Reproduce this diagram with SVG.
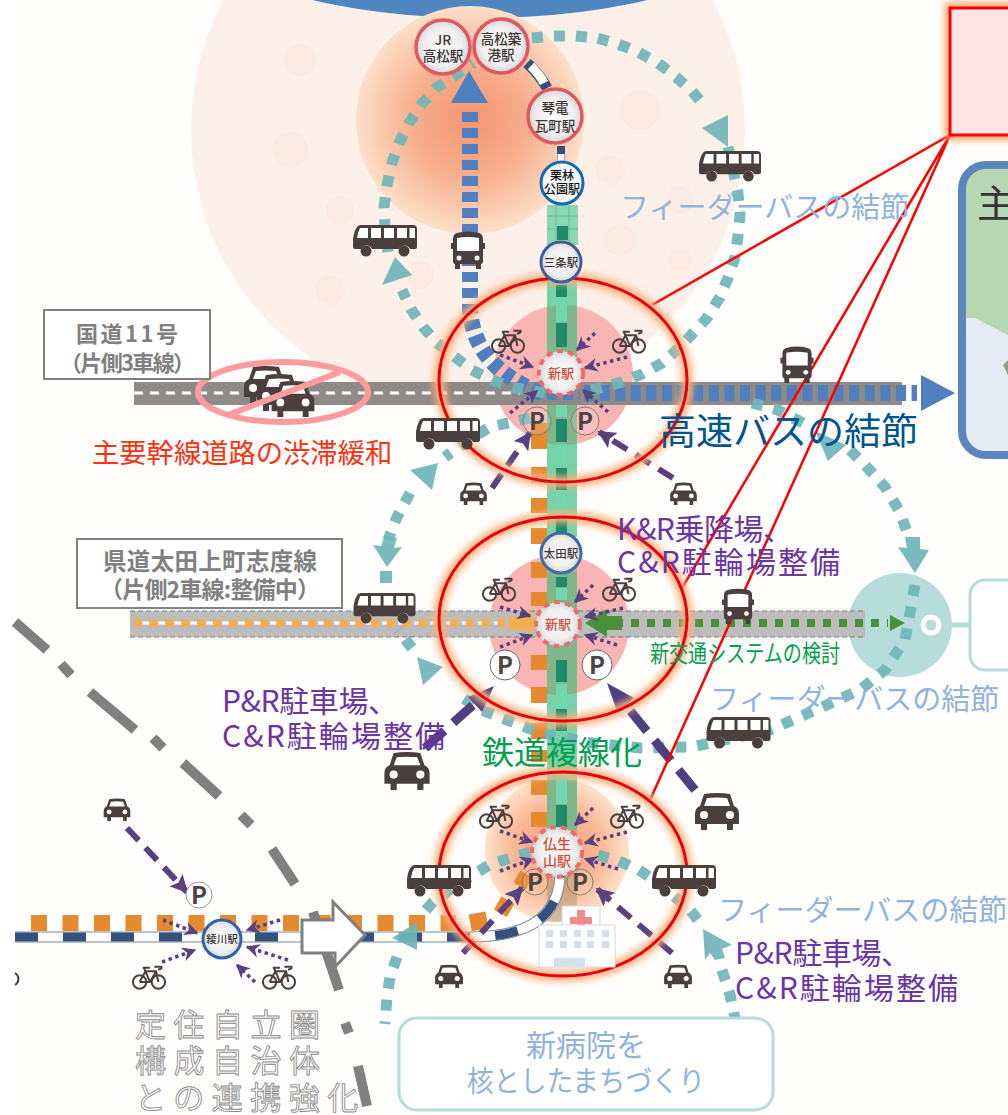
<svg xmlns="http://www.w3.org/2000/svg" width="1008" height="1115" viewBox="0 0 1008 1115">
<style>
.jp{font-family:"Noto Sans CJK JP","Noto Sans",sans-serif}
.sta{font-family:"Noto Sans CJK JP",sans-serif;font-weight:500;text-anchor:middle;fill:#3d3534}
.lbl{font-family:"Noto Sans CJK JP",sans-serif;font-weight:700;fill:#808080}
.feed{font-family:"Noto Sans CJK JP",sans-serif;fill:#8fb3dc;font-size:29px}
.pur{font-family:"Noto Sans CJK JP",sans-serif;fill:#6a35a5;font-size:30px}
.teal{fill:none;stroke:#6fb5b9;stroke-width:11;stroke-dasharray:11 11;opacity:.92}
.tealh{fill:#6fb5b9;opacity:.92}
.dot{fill:none;stroke:#5b4080;stroke-width:3.5;stroke-dasharray:3.5 3.5}
.dash{fill:none;stroke:#5b4080;stroke-width:6;stroke-dasharray:17 10}
.dashb{fill:none;stroke:#4e3f80;stroke-width:9;stroke-dasharray:26 12}
.gd{fill:none;stroke:#808080;stroke-width:10}
.red{fill:none;stroke:#e60012;stroke-width:3}
.glow{fill:none;stroke:#fbb07a;stroke-width:11;filter:url(#bl)}
.rl{fill:none;stroke:#ff0000;stroke-width:2.5}
.rail{fill:#78d2a8}
.rdk{fill:#1f8a68}
.rlt{fill:#72d8ab}
.org{fill:#e58a2e}
.pk{fill:#f9b4b4}
.st{fill:url(#sg)}
.out{font-family:"Noto Sans CJK JP",sans-serif;font-size:31px;letter-spacing:7.5px;fill:#fff;stroke:#8a8a8a;stroke-width:.9}
</style>
<defs>
<filter id="bl" x="-20%" y="-20%" width="140%" height="140%"><feGaussianBlur stdDeviation="3.5"/></filter>
<radialGradient id="or"><stop offset="0" stop-color="#f4956f"/><stop offset=".5" stop-color="#f7ae8c"/><stop offset="1" stop-color="#fcdfc8"/></radialGradient>
<radialGradient id="or3"><stop offset="0" stop-color="#f48a6c"/><stop offset=".6" stop-color="#f8ab82"/><stop offset="1" stop-color="#fcdcc0"/></radialGradient>
<radialGradient id="sg"><stop offset="0" stop-color="#fafafa"/><stop offset=".7" stop-color="#efefef"/><stop offset="1" stop-color="#d6d6d6"/></radialGradient>
<clipPath id="c1"><circle cx="563" cy="375" r="70"/></clipPath>
<clipPath id="c2"><circle cx="559" cy="625" r="70"/></clipPath>
<clipPath id="c3"><circle cx="557" cy="850" r="72"/></clipPath>
<marker id="ah" viewBox="0 0 10 10" refX="9" refY="5" markerWidth="4" markerHeight="4" orient="auto" markerUnits="strokeWidth"><path d="M0 0L10 5L0 10L3 5Z" fill="#5b4080"/></marker>
<marker id="ad" viewBox="0 0 10 10" refX="9" refY="5" markerWidth="3" markerHeight="3" orient="auto" markerUnits="strokeWidth"><path d="M0 0L10 5L0 10L2 5Z" fill="#5b4080"/></marker>
<symbol id="bs" viewBox="0 0 64 32"><path d="M8 0H60Q64 0 64 4V22Q64 24 61 24H57A6 6 0 0 0 46 24H19A6 6 0 0 0 8 24H2Q0 24 0 22V14Q1 6 4 2Q5 0 8 0Z" fill="#4a3f3d"/><circle cx="13" cy="26" r="5.5" fill="#4a3f3d"/><circle cx="51" cy="26" r="5.5" fill="#4a3f3d"/><path d="M7 3H15V13H4Q5 7 7 3Z M18 3H28V13H18Z M31 3H41V13H31Z M44 3H54V13H44Z M56.500 3H62V13H56.500Z" fill="#fff"/></symbol>
<symbol id="bf" viewBox="0 0 34 40"><path d="M6 2Q17 -1 28 2Q32 3 32 8V30Q32 33 30 33V38H25V33H9V38H4V33Q2 33 2 30V8Q2 3 6 2Z M0 12H2V18H0Z M32 12H34V18H32Z" fill="#4a3f3d"/><path d="M6 7Q17 5 28 7V20H6Z" fill="#fff"/><circle cx="8" cy="27" r="2.500" fill="#fff"/><circle cx="26" cy="27" r="2.500" fill="#fff"/></symbol>
<symbol id="car" viewBox="0 0 44 38"><path d="M9 2Q22 0 35 2L39 14Q44 16 44 22V32H38V38H32V32H12V38H6V32H0V22Q0 16 5 14Z" fill="#4a3f3d"/><path d="M12 6Q22 5 32 6L35 14H9Z" fill="#fff"/><circle cx="9" cy="23" r="4" fill="#fff"/><circle cx="35" cy="23" r="4" fill="#fff"/></symbol>
<symbol id="bk" viewBox="0 0 38 28"><g fill="none" stroke="#4a3f3d" stroke-width="2.200"><circle cx="8.500" cy="19" r="7.500"/><circle cx="29.500" cy="19" r="7.500"/><path d="M8.500 19L15 7H27L29.500 19M15 7L20 19H8.500M20 19L27 7M12 3H20M15 7L13 3M25 2H33Q34 5 29 5"/></g></symbol>
<g id="pg"><text class="jp" font-weight="700" text-anchor="middle" font-size="24" fill="#4a4442" y="8.500">P</text></g>
</defs>
<rect width="1008" height="1115" fill="#fffefc"/>
<rect width="15" height="1115" fill="#fff"/>

<g id="area-top">
<circle cx="468" cy="130" r="277" fill="#fdf0e8"/>
<g fill="#fbe6dc" opacity=".55"><circle cx="300" cy="60" r="16"/><circle cx="640" cy="110" r="20"/><circle cx="610" cy="170" r="15"/><circle cx="680" cy="200" r="14"/><circle cx="290" cy="150" r="18"/><circle cx="340" cy="210" r="14"/><circle cx="620" cy="240" r="16"/><circle cx="680" cy="260" r="12"/><circle cx="420" cy="275" r="14"/><circle cx="330" cy="290" r="15"/></g>
<ellipse cx="480" cy="-60" rx="262" ry="78" fill="#4f86c0"/>
<circle cx="470" cy="120" r="114" fill="url(#or)"/>
</g>

<g id="circles">
<circle class="pk" cx="563" cy="375" r="70"/>
<circle class="pk" cx="559" cy="625" r="70"/>
<circle cx="557" cy="850" r="72" fill="url(#or3)" opacity=".85"/>
</g>

<g id="rail-main">
<rect class="rail" x="547" y="205" width="31" height="40" opacity=".85"/>
<path d="M547 216H578M547 229H578M556 205V245M569 205V245" stroke="#5cc48f" fill="none"/>
<rect class="rdk" x="557" y="226" width="11" height="14"/>
<rect class="rail" x="547" y="275" width="30" height="262"/>
<rect class="rail" x="547" y="572" width="30" height="258"/>
<g fill="#8f8a60" opacity=".38"><rect x="547" y="300" width="30" height="150" clip-path="url(#c1)"/><rect x="547" y="555" width="30" height="140" clip-path="url(#c2)"/><rect x="547" y="780" width="30" height="145" clip-path="url(#c3)"/></g>
<g class="rdk"><rect x="556" y="285" width="11" height="12"/><rect x="556" y="323" width="11" height="24"/><rect x="556" y="419" width="11" height="23"/><rect x="556" y="468" width="11" height="22"/><rect x="556" y="518" width="11" height="16"/><rect x="556" y="577" width="11" height="10"/><rect x="556" y="660" width="11" height="22"/><rect x="556" y="709" width="11" height="22"/><rect x="556" y="805" width="11" height="24"/></g>
<g class="rlt"><rect x="556" y="298" width="11" height="24"/><rect x="556" y="392" width="11" height="25"/><rect x="556" y="444" width="11" height="22"/><rect x="556" y="492" width="11" height="25"/><rect x="556" y="588" width="11" height="12"/><rect x="556" y="684" width="11" height="24"/><rect x="556" y="780" width="11" height="24"/></g>
</g>

<g id="feeder-hub">
<circle cx="900" cy="625" r="52" fill="#b6dcdc"/>
<path d="M932 625H972" stroke="#b6dcdc" stroke-width="5"/>
<circle cx="931" cy="625" r="8" fill="none" stroke="#fff" stroke-width="5"/>
<rect x="970" y="580" width="60" height="90" rx="15" fill="#fff" stroke="#b5dcdc" stroke-width="3"/>
</g>

<g id="roads">
<rect x="134" y="382" width="768" height="23" fill="#8f8a87"/>
<path d="M134 393H520" stroke="#fff" stroke-width="3" stroke-dasharray="9 7" fill="none"/>
<rect x="130" y="611" width="735" height="26" fill="#bcbcbc"/>
<path d="M130 611H865M130 637H865" stroke="#777" stroke-dasharray="5 3" fill="none"/>
<path d="M134 623H515" stroke="#fff" stroke-width="3" stroke-dasharray="7 9" stroke-dashoffset="8" fill="none"/>
<path d="M134 623H512" stroke="#f2ae50" stroke-width="8" stroke-dasharray="8 7.800" fill="none"/>
<path d="M511 612V616H530V609L540 623L530 637V630H511V634Z" fill="#f2ae50" transform="translate(-2,0)"/>
</g>

<g id="connectors">
<g class="org">
<rect x="531" y="423" width="16" height="26"/><rect x="531" y="467" width="16" height="16"/><rect x="531" y="498" width="16" height="15"/><rect x="531" y="528" width="16" height="16"/><rect x="531" y="562" width="16" height="16"/><rect x="531" y="592" width="16" height="14"/><rect x="531" y="655" width="16" height="15"/><rect x="531" y="687" width="16" height="16"/><rect x="531" y="723" width="16" height="16"/><rect x="531" y="750" width="16" height="12"/><rect x="531" y="780" width="16" height="15"/><rect x="531" y="812" width="16" height="15"/>
<rect x="516" y="873" width="14" height="14" transform="rotate(30 523 880)"/><rect x="497" y="899" width="15" height="15" transform="rotate(30 504 906)"/><rect x="470" y="913" width="17" height="17" transform="rotate(-10 478 921)"/>
</g>
<path d="M31 923H456" stroke="#e58a2e" stroke-width="16" stroke-dasharray="16 15.500" fill="none"/>
<path d="M15 937H470Q559 937 560 874" fill="none" stroke="#7d8599" stroke-width="11"/>
<path d="M15 937H470Q559 937 560 874" fill="none" stroke="#fff" stroke-width="9"/>
<path d="M15 937H470Q559 937 560 874" fill="none" stroke="#33507f" stroke-width="9" stroke-dasharray="23 25"/>
<path d="M527 63Q540 75 547 88" fill="none" stroke="#33507f" stroke-width="11" />
<path d="M531 66Q540 75 544 83" fill="none" stroke="#fff" stroke-width="9"/>
<path d="M561 146L561 164" fill="none" stroke="#33507f" stroke-width="8"/>
<path d="M561 154V164" fill="none" stroke="#fff" stroke-width="7"/>

<path d="M470 112V310Q474 366 538 392H580" fill="none" stroke="#4f7fbf" stroke-width="16" stroke-dasharray="10 6"/>
<path d="M584 393H917" fill="none" stroke="#4f7fbf" stroke-width="16" stroke-dasharray="10 5.600"/>
<path d="M469 71L488 103H451Z" fill="#4f7fbf"/>
<path d="M921 375L955 393L921 411Z" fill="#4f7fbf"/>
<path d="M615 623H888" fill="none" stroke="#4a9038" stroke-width="8" stroke-dasharray="8 8"/>
<path d="M905 623L890 615V631Z" fill="#4a9038"/>
<path d="M585 623L607 609V616H622V630H607V637Z" fill="#4a9038"/>

<path class="teal" d="M545 393L515 388L492 380L472 370L455 357L437 343L423 327L411 309L402 290"/>
<path class="tealh" d="M395 257L412 275L382 285Z"/>
<path class="teal" d="M388 252L385 228L384 207L387 185L392 163L399 143L409 123L421 105L436 88L453 77L473 63"/>
<path class="teal" d="M532 38L553 36L575 36L597 38L618 44L638 52L658 63L676 77L692 91L706 108"/>
<path class="tealh" d="M728 147L702 128L728 115Z"/>
<path class="teal" d="M728 147L738 193L740 215L738 236L735 257L728 278L720 297L707 318L693 333L678 349L662 363L642 374L622 382L600 388L580 392"/>
<path class="teal" d="M530 418L490 427L467 441L445 457"/>
<path class="tealh" d="M438 463L410 470L432 490Z"/>
<path class="teal" d="M410 493L397 517L388 540"/>
<path class="tealh" d="M387 567L373 545L381 546L385 535L397 538L394 548L402 547Z"/>
<rect class="tealh" x="380" y="571" width="12" height="12"/>
<path class="teal" d="M752 403L778 410L803 423"/>
<path class="tealh" d="M815 431L846 445L828 461Z"/>
<path class="teal" d="M850 450L865 465L885 487L900 512L908 535"/>
<path class="tealh" d="M915 573L898 547L907 548L905 537L920 537L920 549L929 550Z"/>
<path class="teal" d="M915 585L905 640L885 670L860 690L820 708L770 730L692 747L640 748L583 742L533 730L507 720L482 710L458 695"/>
<path class="tealh" d="M417 657L443 667L423 685Z"/>
<path class="teal" d="M412 648L398 630"/>
<path class="teal" d="M530 852L510 858L489 865L473 875L452 888L433 902L420 917"/>
<path class="tealh" d="M392 938L417 922L417 950Z"/>
<path class="teal" d="M397 957L390 977L387 997L385 1024"/>
<path class="teal" d="M598 855L619 861L639 870L657 882L673 895L690 910L702 925"/>
<path class="tealh" d="M703 929L732 945L722 949L725 958L715 960L710 953L705 960Z"/>
<path class="teal" d="M722 970L730 995L735 1018"/>

<g id="purple">
<path class="dot" marker-end="url(#ah)" d="M500 355L533 367"/><path class="dot" marker-end="url(#ah)" d="M627 357L585 368"/><path class="dot" marker-end="url(#ah)" d="M595 333L577 350"/><path class="dot" marker-end="url(#ah)" d="M510 413L537 391"/><path class="dot" marker-end="url(#ah)" d="M608 412L583 390"/>
<path class="dash" marker-end="url(#ad)" d="M492 488L530 433"/><path class="dash" marker-end="url(#ad)" d="M673 478L599 432"/>
<path class="dot" marker-end="url(#ah)" d="M500 607L530 616"/><path class="dot" marker-end="url(#ah)" d="M500 647L532 635"/><path class="dot" marker-end="url(#ah)" d="M593 585L575 602"/><path class="dot" marker-end="url(#ah)" d="M623 608L585 617"/><path class="dot" marker-end="url(#ah)" d="M617 645L585 635"/>
<path class="dashb" d="M425 748L473 705"/><path d="M494 686L468 697L482 712Z" fill="#4e3f80"/>
<path class="dashb" d="M695 790L628 708"/><path d="M607 683L634 698L618 714Z" fill="#4e3f80"/>
<path class="dot" marker-end="url(#ah)" d="M500 831L532 842"/><path class="dot" marker-end="url(#ah)" d="M627 832L585 843"/><path class="dot" marker-end="url(#ah)" d="M593 808L575 825"/><path class="dot" marker-end="url(#ah)" d="M500 871L533 859"/><path class="dot" marker-end="url(#ah)" d="M618 869L585 859"/>
<path class="dash" marker-end="url(#ad)" d="M463 953L522 888"/><path class="dash" marker-end="url(#ad)" d="M672 953L597 889"/>
<path class="dash" marker-end="url(#ad)" d="M127 828L187 892"/>
<path class="dot" marker-end="url(#ah)" d="M163 920L197 933"/><path class="dot" marker-end="url(#ah)" d="M280 920L247 930"/><path class="dot" marker-end="url(#ah)" d="M162 962L195 950"/><path class="dot" marker-end="url(#ah)" d="M288 960L247 947"/><path class="dot" marker-end="url(#ah)" d="M255 982L237 965"/>
</g>

<g id="gray-line">
<path class="gd" d="M15 622L47 650"/><path class="gd" d="M61 664L71 675"/><path class="gd" d="M90 692L135 730"/><path class="gd" d="M153 738L163 748"/><path class="gd" d="M183 763L219 796"/><path class="gd" d="M241 815L251 825"/><path class="gd" d="M272 849L295 884"/><path class="gd" d="M313 912L339 990"/><path class="gd" d="M345 1023L349 1033"/><path class="gd" d="M358 1066L367 1106"/>
</g>
<path id="white-arrow" d="M302 920H333V902L365 935L335 967V953H302Z" fill="#fff" stroke="#808080" stroke-width="3"/>
</g>

<g id="red-lines">
<path class="rl" d="M950 135L652 305M950 135L682 588M950 135L650 800"/>
</g>
<g id="ell1"><ellipse class="glow" cx="563" cy="380" rx="124" ry="102"/><ellipse class="red" cx="563" cy="380" rx="124" ry="102"/></g>
<g id="ell2"><ellipse class="glow" cx="563" cy="619" rx="124" ry="102"/><ellipse class="red" cx="563" cy="619" rx="124" ry="102"/></g>
<g id="ell3"><ellipse class="glow" cx="563" cy="874" rx="124" ry="102"/><ellipse class="red" cx="563" cy="874" rx="124" ry="102"/></g>

<g id="hospital">
<rect x="562" y="906" width="38" height="22" fill="#fff" stroke="#d8d8d8"/>
<path d="M577 910H585V917H592V924H585V931H577V924H570V917H577Z" fill="#f08a8a"/>
<rect x="539" y="925" width="76" height="42" fill="#fff" stroke="#d8d8d8"/>
<g fill="#d5dfec"><rect x="546" y="930" width="7" height="7"/><rect x="560" y="930" width="7" height="7"/><rect x="574" y="930" width="7" height="7"/><rect x="587" y="930" width="7" height="7"/><rect x="602" y="930" width="7" height="7"/><rect x="546" y="941" width="7" height="7"/><rect x="560" y="941" width="7" height="7"/><rect x="574" y="941" width="7" height="7"/><rect x="587" y="941" width="7" height="7"/><rect x="602" y="941" width="7" height="7"/><rect x="554" y="958" width="31" height="9"/></g>
</g>

<g id="icons">
<use href="#bs" x="352" y="225" width="66" height="32"/><use href="#bs" x="698" y="151" width="64" height="31"/><use href="#bs" x="416" y="418" width="64" height="32"/><use href="#bs" x="352" y="593" width="65" height="31"/><use href="#bs" x="706" y="717" width="65" height="32"/><use href="#bs" x="407" y="865" width="64" height="32"/><use href="#bs" x="652" y="865" width="64" height="32"/>
<use href="#bf" x="451" y="231" width="34" height="40"/><use href="#bf" x="780" y="346" width="34" height="39"/><use href="#bf" x="722" y="588" width="32" height="38"/>
<use href="#car" x="459" y="482" width="29" height="23"/><use href="#car" x="669" y="482" width="29" height="23"/><use href="#car" x="384" y="751" width="46" height="39"/><use href="#car" x="694" y="792" width="46" height="38"/><use href="#car" x="434" y="964" width="30" height="24"/><use href="#car" x="663" y="964" width="30" height="24"/><use href="#car" x="102" y="798" width="30" height="23"/>
<use href="#bk" x="489" y="329" width="38" height="25"/><use href="#bk" x="610" y="329" width="38" height="25"/><use href="#bk" x="480" y="577" width="38" height="25"/><use href="#bk" x="600" y="577" width="38" height="25"/><use href="#bk" x="477" y="804" width="38" height="25"/><use href="#bk" x="608" y="804" width="38" height="25"/><use href="#bk" x="130" y="965" width="38" height="25"/><use href="#bk" x="260" y="965" width="38" height="25"/><path d="M15 973A7 7 0 0 1 15 985" fill="none" stroke="#4a3f3d" stroke-width="2"/>
</g>

<g id="parking">
<g transform="translate(537,421)"><circle r="14" fill="#fff" fill-opacity=".15" stroke="#8a7a70"/><use href="#pg"/></g>
<g transform="translate(585,421)"><circle r="14" fill="#fff" fill-opacity=".15" stroke="#8a7a70"/><use href="#pg"/></g>
<g transform="translate(505,665)"><circle r="15" fill="#fff" stroke="#666"/><use href="#pg"/></g>
<g transform="translate(597,665)"><circle r="15" fill="#fff" stroke="#666"/><use href="#pg"/></g>
<g transform="translate(535,882)"><circle r="13" fill="#fff" fill-opacity=".1" stroke="#8a7a70"/><use href="#pg"/></g>
<g transform="translate(580,882)"><circle r="13" fill="#fff" fill-opacity=".1" stroke="#8a7a70"/><use href="#pg"/></g>
<g transform="translate(199,895)"><circle r="13" fill="#fff" stroke="#999"/><use href="#pg"/></g>
</g>

<g id="st-jr"><circle class="st" cx="443" cy="47" r="27" stroke="#e0585f" stroke-width="3.500"/><text class="sta" font-size="13.500" x="443" y="45">JR</text><text class="sta" font-size="13.500" x="443" y="61">高松駅</text></g>
<g id="st-chikko"><circle class="st" cx="501" cy="46" r="27" stroke="#e0585f" stroke-width="3.500"/><text class="sta" font-size="13.500" x="501" y="44">高松築</text><text class="sta" font-size="13.500" x="501" y="60">港駅</text></g>
<g id="st-kawaramachi"><circle class="st" cx="555" cy="116" r="27" stroke="#e0585f" stroke-width="3.500"/><text class="sta" font-size="13.500" x="555" y="113">琴電</text><text class="sta" font-size="13.500" x="555" y="131">瓦町駅</text></g>
<g id="st-ritsurin"><circle cx="562" cy="183" r="21" fill="#f6f6f6" stroke="#0f6bb5" stroke-width="3"/><text class="sta" font-size="12" x="562" y="180" style="fill:#111">栗林</text><text class="sta" font-size="12" x="562" y="194" style="fill:#111">公園駅</text></g>
<g id="st-sanjo"><circle cx="561" cy="262" r="20" fill="url(#sg)" stroke="#3f5c9b" stroke-width="3"/><text class="sta" font-size="11.500" x="561" y="267">三条駅</text></g>
<g id="st-ota"><circle cx="561" cy="553" r="20" fill="url(#sg)" stroke="#3f6aa8" stroke-width="3"/><text class="sta" font-size="11.500" x="561" y="558">太田駅</text></g>
<g id="st-new1"><circle cx="561" cy="373" r="22" fill="url(#sg)" stroke="#ef6a6a" stroke-width="4" stroke-dasharray="6 5"/><text class="sta" font-size="13" x="561" y="378" style="fill:#d84a3a">新駅</text></g>
<g id="st-new2"><circle cx="558" cy="624" r="22" fill="url(#sg)" stroke="#ef6a6a" stroke-width="4" stroke-dasharray="6 5"/><text class="sta" font-size="13" x="558" y="629" style="fill:#d84a3a">新駅</text></g>
<g id="st-bussho"><circle cx="557" cy="852" r="25" fill="url(#sg)" stroke="#ef6a6a" stroke-width="4" stroke-dasharray="6 5"/><text class="sta" font-size="14" x="557" y="849" style="fill:#d84a3a">仏生</text><text class="sta" font-size="14" x="557" y="866" style="fill:#d84a3a">山駅</text></g>
<g id="st-ayagawa"><circle cx="222" cy="939" r="19" fill="url(#sg)" stroke="#2f62a8" stroke-width="3"/><text class="sta" font-size="10.500" x="222" y="943">綾川駅</text></g>

<g id="congestion">
<use href="#car" x="244" y="364" width="44" height="40"/><use href="#car" x="257" y="372" width="44" height="40"/><use href="#car" x="270" y="380" width="46" height="37"/>
<ellipse cx="283" cy="392" rx="85" ry="30" fill="none" stroke="#ff9a9e" stroke-width="6"/>
<path d="M228 415L340 372" stroke="#ff9a9e" stroke-width="6"/>
</g>

<g id="red-box"><rect x="950" y="8" width="80" height="127" fill="none" stroke="#f8a060" stroke-width="10" filter="url(#bl)"/><rect x="950" y="8" width="80" height="127" fill="#fee4e4" stroke="#f00" stroke-width="3"/></g>
<g id="map-box">
<rect x="962" y="165" width="70" height="290" rx="24" fill="#e5eaf4"/>
<path d="M966 175Q970 168 990 168H1008V335L975 318H965Z" fill="#b7d7b4"/>
<path d="M1008 360L1003 365L1008 375Z" fill="#9a9a8a"/>
<rect x="962" y="165" width="70" height="290" rx="24" fill="none" stroke="#5b86bd" stroke-width="8"/>
<text class="jp" font-size="38" x="977" y="217" fill="#333">主</text>
</g>

<g id="labels">
<g id="lbl-r11"><rect x="44" y="310" width="166" height="69" fill="#fff" stroke="#808080" stroke-width="2"/><text class="lbl" font-size="22" x="76" y="342" textLength="102">国道11号</text><text class="lbl" font-size="22" x="60" y="371" textLength="135">（片側3車線）</text></g>
<g id="lbl-pref"><rect x="77" y="539" width="265" height="69" fill="#fff" stroke="#808080" stroke-width="2"/><text class="lbl" font-size="23.500" x="103" y="570" textLength="214">県道太田上町志度線</text><text class="lbl" font-size="23" x="100" y="598" textLength="220">（片側2車線:整備中）</text></g>
<text class="jp" font-size="27.300" x="92" y="463" fill="#ff3010">主要幹線道路の渋滞緩和</text>
<text class="jp" font-size="37" x="659" y="445" fill="#00558f">高速バスの結節</text>
<text class="feed" x="620" y="218">フィーダーバスの結節</text>
<text class="feed" x="710" y="710">フィーダーバスの結節</text>
<text class="feed" x="718" y="921">フィーダーバスの結節</text>
<text class="pur" x="617" y="540" textLength="176">K&amp;R乗降場、</text>
<text class="pur" x="617" y="573" textLength="223">C&amp;R駐輪場整備</text>
<text class="pur" x="222" y="712" textLength="176">P&amp;R駐車場、</text>
<text class="pur" x="222" y="747" textLength="223">C&amp;R駐輪場整備</text>
<text class="pur" x="735" y="964" textLength="176">P&amp;R駐車場、</text>
<text class="pur" x="735" y="999" textLength="223">C&amp;R駐輪場整備</text>
<text class="jp" font-size="24" x="650" y="662" fill="#00a050" textLength="190" lengthAdjust="spacingAndGlyphs">新交通システムの検討</text>
<text class="jp" font-size="32" x="482" y="764" fill="#00a050">鉄道複線化</text>
<text class="out" x="135" y="1036">定住自立圏</text>
<text class="out" x="135" y="1072">構成自治体</text>
<text class="out" x="135" y="1109">との連携強化</text>
<g id="lbl-hospital"><rect x="399" y="1018" width="374" height="92" rx="18" fill="#fff" fill-opacity=".9" stroke="#b5dcdc" stroke-width="3"/><text class="feed" style="font-size:30px" x="586" y="1056" text-anchor="middle">新病院を</text><text class="feed" x="467" y="1092" textLength="238" lengthAdjust="spacingAndGlyphs">核としたまちづくり</text></g>
</g>
</svg>
